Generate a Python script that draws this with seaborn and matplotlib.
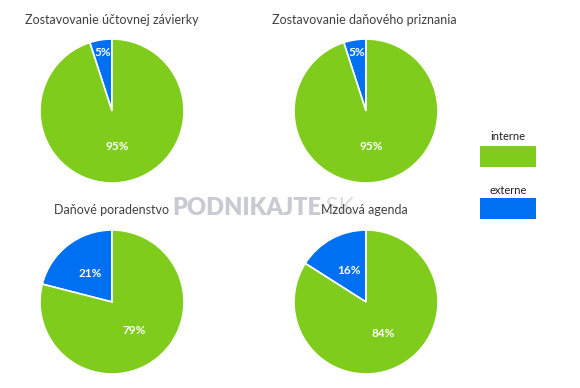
import matplotlib
matplotlib.use("Agg")
import matplotlib.pyplot as plt
from matplotlib.patches import Rectangle
import seaborn as sns

titles = [
    "Zostavovanie účtovnej závierky",
    "Zostavovanie daňového priznania",
    "Daňové poradenstvo",
    "Mzdová agenda",
]
categories = ["externe", "interne"]
externe = [5, 5, 21, 16]
interne = [95, 95, 79, 84]

GREEN = "#80CC1C"
BLUE = "#0070F2"
colors = {"interne": GREEN, "externe": BLUE}

sns.set_theme(style="white")
plt.rcParams["font.family"] = ["Lato", "DejaVu Sans"]

W, H = 580, 388
fig = plt.figure(figsize=(W / 100, H / 100), dpi=100)

# pie centres in pixels (x, y from top), radius in pixels
centres = [(112, 111), (366, 111), (112, 302), (366, 302)]
title_pos = [(112, 20), (364, 20), (112, 210), (364, 210)]
R = 72

for i, title in enumerate(titles):
    cx, cy = centres[i]
    ax = fig.add_axes([(cx - R) / W, (H - cy - R) / H, 2 * R / W, 2 * R / H])
    vals = [externe[i], interne[i]]
    wedges, texts, autotexts = ax.pie(
        vals,
        colors=[colors[c] for c in categories],
        startangle=90,
        counterclock=True,
        autopct="%d%%",
        pctdistance=0.5,
        wedgeprops=dict(edgecolor="white", linewidth=1.2),
        textprops=dict(color="white", fontsize=8.5, fontweight="bold"),
    )
    # small slices: push label out towards the rim
    for w, t, v in zip(wedges, autotexts, vals):
        if v < 10:
            x, y = t.get_position()
            d = (x ** 2 + y ** 2) ** 0.5
            t.set_position((x / d * 0.82, y / d * 0.82))
    ax.set_xlim(-1, 1)
    ax.set_ylim(-1, 1)
    ax.set_aspect("equal")
    ax.axis("off")
    tx, ty = title_pos[i]
    fig.text(tx / W, 1 - ty / H, title, ha="center", va="center",
             fontsize=9, color="#404040")

# legend on the right
lax = fig.add_axes([0, 0, 1, 1], zorder=-1)
lax.set_xlim(0, W)
lax.set_ylim(H, 0)
lax.axis("off")
for label, ty, ry in [("interne", 136, 146), ("externe", 190, 198)]:
    lax.text(508, ty, label, ha="center", va="center", fontsize=8, color="#202020")
    lax.add_patch(Rectangle((480, ry), 56, 21, facecolor=colors[label], edgecolor="none"))

# watermark
lax.text(321, 208, "PODNIKAJTE", ha="right", va="center", fontsize=17,
         fontweight="heavy", color="#C9CBD2")
lax.text(321, 208, ".SK", ha="left", va="center", fontsize=17,
         color="#DADCE0")

fig.savefig("out.png", dpi=100, facecolor="white")
